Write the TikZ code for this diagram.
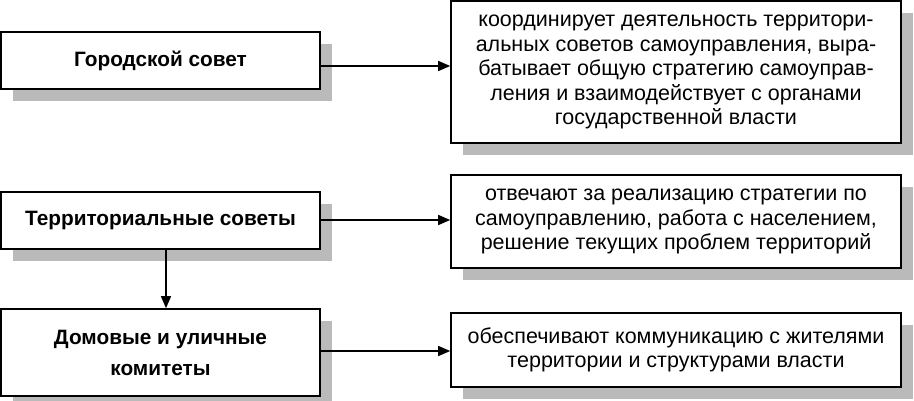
\documentclass[tikz,border=0pt]{standalone}
\usepackage{fontspec}
\setmainfont{Liberation Sans}
\usetikzlibrary{arrows.meta,shadows}
\begin{document}
\begin{tikzpicture}[x=1pt,y=-1pt,
  shad/.style={drop shadow={shadow xshift=12pt,shadow yshift=-12pt,fill=black!27,opacity=1}},
  leftbox/.style={draw=black,line width=1.6pt,fill=white,shad,minimum width=319pt,inner sep=0pt,align=center,
     font=\fontsize{20.8}{31}\selectfont\bfseries},
  rightbox/.style={draw=black,line width=1.6pt,fill=white,shad,minimum width=450pt,inner sep=0pt,align=center,
     font=\fontsize{21.5}{24.5}\selectfont},
  arr/.style={line width=1.4pt,-{Triangle[length=12pt,width=10pt]}}]
\useasboundingbox (0,0) rectangle (914,400);
\node[leftbox,minimum height=57pt] (b1) at (160.5,60.5) {Городской совет};
\node[leftbox,minimum height=57pt] (b2) at (160.5,220.5) {Территориальные советы};
\node[leftbox,minimum height=87pt] (b3) at (160.5,352.5) {Домовые и уличные\\комитеты};
\node[rightbox,minimum height=142pt] (r1) at (676,72) {координирует деятельность территори-\\альных советов самоуправления, выра-\\батывает общую стратегию самоуправ-\\ления и взаимодействует с органами\\государственной власти};
\node[rightbox,minimum height=93pt] (r2) at (676,221.5) {отвечают за реализацию стратегии по\\самоуправлению, работа с населением,\\решение текущих проблем территорий};
\node[rightbox,minimum height=74pt] (r3) at (676,350) {обеспечивают коммуникацию с жителями\\территории и структурами власти};
\draw[arr] (b1.east |- 0,66) -- (r1.west |- 0,66);
\draw[arr] (b2.east |- 0,220) -- (r2.west |- 0,220);
\draw[arr] (b3.east |- 0,351) -- (r3.west |- 0,351);
\draw[arr] (b2.south -| 166,0) -- (b3.north -| 166,0);
\end{tikzpicture}
\end{document}
